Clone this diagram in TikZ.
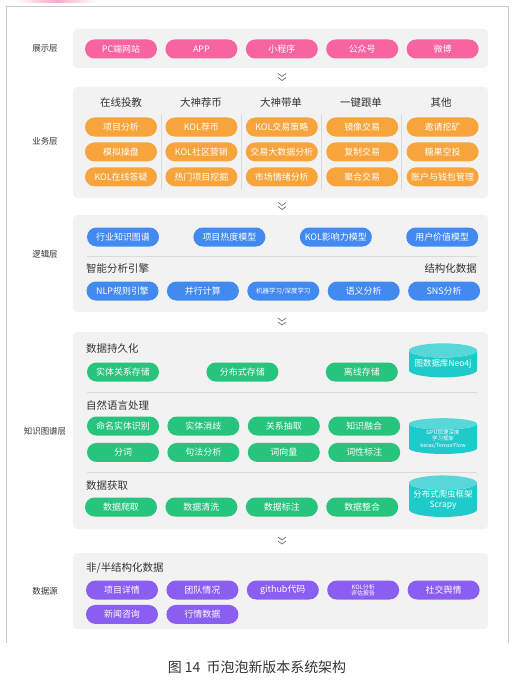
\documentclass[tikz,border=0pt]{standalone}
\usepackage{fontspec}
\setmainfont{Noto Sans CJK SC}
\usetikzlibrary{positioning,shapes.geometric}

\definecolor{pinkpill}{HTML}{F7649F}
\definecolor{orangepill}{HTML}{F7A43C}
\definecolor{bluepill}{HTML}{428AF0}
\definecolor{greenpill}{HTML}{26C47C}
\definecolor{cyandb}{HTML}{1FCACA}
\definecolor{purplepill}{HTML}{8B5EF2}
\definecolor{panelgrey}{HTML}{F2F2F2}
\definecolor{textgrey}{HTML}{333333}
\definecolor{linegrey}{HTML}{DADADA}
\definecolor{framegrey}{HTML}{C8C8C8}

\begin{document}
\begin{tikzpicture}
[x=1bp, y=-1bp, node distance=8bp,
% STYLES
% grey band behind each layer
panel/.style={rectangle, fill=panelgrey, rounded corners=4bp, minimum width=415bp, inner sep=0},
% layer names on the left and titles inside the bands
layer/.style={text=textgrey, font=\fontsize{8.5}{10}\selectfont},
heading/.style={text=textgrey, inner sep=0, font=\fontsize{10.5}{12}\selectfont},
% the rounded boxes, one colour per layer
pill/.style={rectangle, rounded corners=9.5bp, minimum width=72bp, minimum height=19bp, inner sep=0, text=white, font=\fontsize{9}{10}\selectfont},
showpill/.style={pill, fill=pinkpill},
bizpill/.style={pill, fill=orangepill},
logicpill/.style={pill, fill=bluepill},
kgpill/.style={pill, fill=greenpill},
srcpill/.style={pill, fill=purplepill},
db/.style={cylinder, shape border rotate=90, aspect=0.25, minimum width=68bp, minimum height=34bp, inner sep=0, cylinder uses custom fill, cylinder body fill=cyandb, cylinder end fill=cyandb!75!white, text=white, align=center, font=\fontsize{8.5}{10}\selectfont},
sep/.style={linegrey, line width=0.6bp},
chev/.style={textgrey!70, line width=0.7bp}]

\useasboundingbox (0,0) rectangle (514,683);

% frame
\shade[left color=white, right color=white, middle color=pinkpill!55] (15,0) rectangle (97,3);
\draw[framegrey, line width=0.8bp] (6.5,643) -- (6.5,6.5) -- (508.5,6.5) -- (508.5,643);

% Panels
\node [panel, minimum height=39bp] (show) at (280.5,48.5) {};
\node [panel, minimum height=111bp] (biz) at (280.5,142.5) {};
\node [panel, minimum height=97bp] (logic) at (280.5,263.5) {};
\node [panel, minimum height=197bp] (kg) at (280.5,430.5) {};
\node [panel, minimum height=76bp] (src) at (280.5,591) {};

\node [layer] (show-name) at (45,49) {展示层};
\node [layer] (biz-name) at (45,141) {业务层};
\node [layer] (logic-name) at (45,254) {逻辑层};
\node [layer] (kg-name) at (45,431) {知识图谱层};
\node [layer] (src-name) at (45,591) {数据源};

% 展示层
\node [showpill] (pc) at (121,49) {PC端网站};
\node [showpill, right=of pc] (app) {APP};
\node [showpill, right=of app] (mini) {小程序};
\node [showpill, right=of mini] (wechat) {公众号};
\node [showpill, right=of wechat] (weibo) {微博};

% 业务层
\node [heading] (edu) at (121,103) {在线投教};
\node [heading] (coin) at (201,103) {大神荐币};
\node [heading] (lead) at (281,103) {大神带单};
\node [heading] (follow) at (361,103) {一键跟单};
\node [heading] (other) at (441,103) {其他};

\node [bizpill] (edu-a) at (121,127) {项目分析};
\node [bizpill, below=5.5bp of edu-a] (edu-b) {模拟操盘};
\node [bizpill, below=5.5bp of edu-b] (edu-c) {KOL在线答疑};
\node [bizpill, right=of edu-a] (coin-a) {KOL荐币};
\node [bizpill, below=5.5bp of coin-a] (coin-b) {KOL社区营销};
\node [bizpill, below=5.5bp of coin-b] (coin-c) {热门项目挖掘};
\node [bizpill, right=of coin-a] (lead-a) {KOL交易策略};
\node [bizpill, below=5.5bp of lead-a] (lead-b) {交易大数据分析};
\node [bizpill, below=5.5bp of lead-b] (lead-c) {市场情绪分析};
\node [bizpill, right=of lead-a] (follow-a) {镜像交易};
\node [bizpill, below=5.5bp of follow-a] (follow-b) {复制交易};
\node [bizpill, below=5.5bp of follow-b] (follow-c) {聚合交易};
\node [bizpill, right=of follow-a] (other-a) {邀请挖矿};
\node [bizpill, below=5.5bp of other-a] (other-b) {糖果空投};
\node [bizpill, below=5.5bp of other-b] (other-c) {账户与钱包管理};

\draw[sep] (161,115) -- (161,189);
\draw[sep] (241,115) -- (241,189);
\draw[sep] (321,115) -- (321,189);
\draw[sep] (401,115) -- (401,189);

% 逻辑层
\node [logicpill] (industry) at (123,237) {行业知识图谱};
\node [logicpill, right=34bp of industry] (heat) {项目热度模型};
\node [logicpill, right=34bp of heat] (influence) {KOL影响力模型};
\node [logicpill, right=34bp of influence] (value) {用户价值模型};
\draw[sep] (87,256) -- (477,256);
\node [heading, anchor=west] (engine) at (86,269) {智能分析引擎};
\node [heading, anchor=east] (structured) at (477,269) {结构化数据};
\node [logicpill] (nlp) at (122.5,291) {NLP规则引擎};
\node [logicpill, right=of nlp] (parallel) {并行计算};
\node [logicpill, right=of parallel, font=\fontsize{6.5}{8}\selectfont] (ml) {机器学习/深度学习};
\node [logicpill, right=of ml] (semantic) {语义分析};
\node [logicpill, right=of semantic] (sns) {SNS分析};

% 知识图谱层
\node [heading, anchor=west] (persist) at (86,349) {数据持久化};
\node [kgpill] (entity-store) at (123,372) {实体关系存储};
\node [kgpill, right=47bp of entity-store] (dist-store) {分布式存储};
\node [kgpill, right=47bp of dist-store] (offline-store) {离线存储};
\node [db] (neo) at (443,364) {图数据库Neo4j};
\draw[sep] (87,392) -- (477,392);

\node [heading, anchor=west] (nlproc) at (86,405) {自然语言处理};
\node [kgpill] (ner) at (123,426) {命名实体识别};
\node [kgpill, right=of ner] (disamb) {实体消歧};
\node [kgpill, right=of disamb] (relation) {关系抽取};
\node [kgpill, right=of relation] (fusion) {知识融合};
\node [kgpill, below=7bp of ner] (seg) {分词};
\node [kgpill, right=of seg] (syntax) {句法分析};
\node [kgpill, right=of syntax] (wordvec) {词向量};
\node [kgpill, right=of wordvec] (pos) {词性标注};
\node [db, font=\fontsize{5.5}{6.5}\selectfont] (gpu) at (443,439) {GPU加速深度\\学习框架\\keras/TensorFlow};
\draw[sep] (87,472) -- (477,472);

\node [heading, anchor=west] (acquire) at (86,486) {数据获取};
\node [kgpill] (crawl) at (121,507) {数据爬取};
\node [kgpill, right=of crawl] (clean) {数据清洗};
\node [kgpill, right=of clean] (label) {数据标注};
\node [kgpill, right=of label] (merge) {数据整合};
\node [db] (scrapy) at (443,500) {分布式爬虫框架\\Scrapy};

% 数据源
\node [heading, anchor=west] (raw) at (86,568) {非/半结构化数据};
\node [srcpill] (detail) at (122,590) {项目详情};
\node [srcpill, right=of detail] (team) {团队情况};
\node [srcpill, right=of team] (github) {github代码};
\node [srcpill, right=of github, align=center, font=\fontsize{6}{6.5}\selectfont] (report) {KOL分析\\评估报告};
\node [srcpill, right=of report] (social) {社交舆情};
\node [srcpill, below=5bp of detail] (news) {新闻咨询};
\node [srcpill, right=of news] (market) {行情数据};

% chevrons between the layers
\draw[chev] (278,73.5) -- (282,76.5) -- (286,73.5) (278,77.5) -- (282,80.5) -- (286,77.5);
\draw[chev] (278,202.5) -- (282,205.5) -- (286,202.5) (278,206.5) -- (282,209.5) -- (286,206.5);
\draw[chev] (278,318) -- (282,321) -- (286,318) (278,322) -- (282,325) -- (286,322);
\draw[chev] (278,537) -- (282,540) -- (286,537) (278,541) -- (282,544) -- (286,541);

\node [text=textgrey, font=\fontsize{14}{16}\selectfont] (caption) at (257,667) {图 14\ \ 币泡泡新版本系统架构};

\end{tikzpicture}
\end{document}
